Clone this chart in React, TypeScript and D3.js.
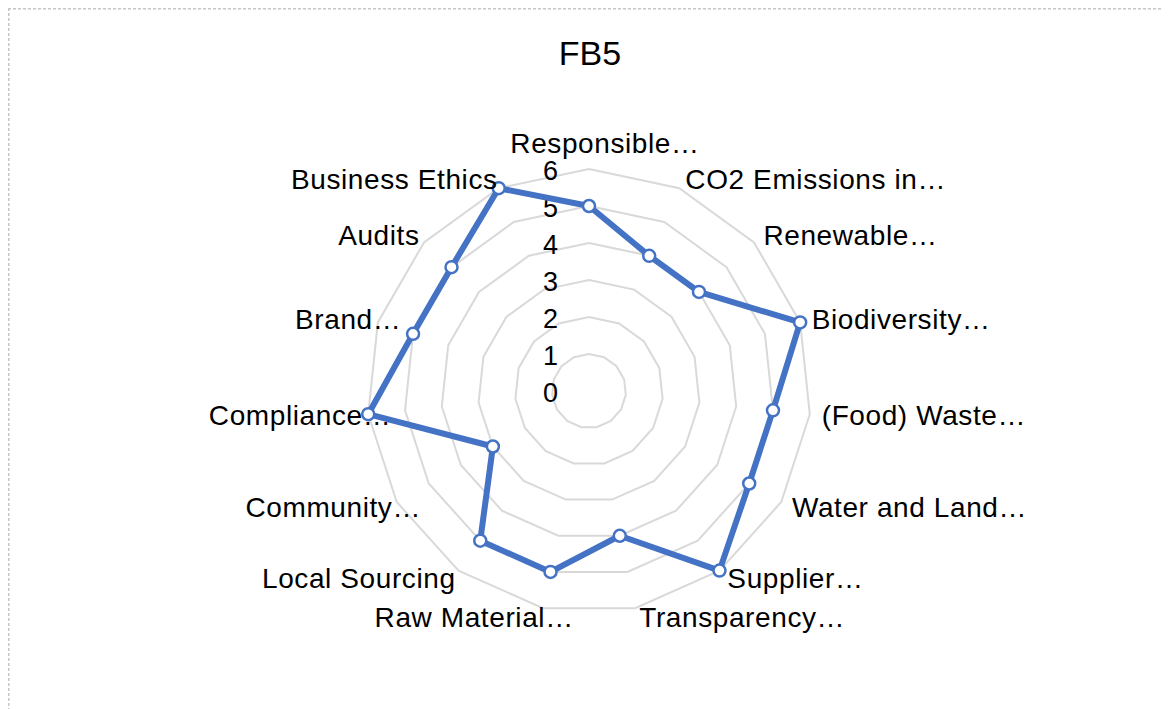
import React from "react";
import * as d3 from "d3";

const categories = [
  "Responsible…",
  "CO2 Emissions in…",
  "Renewable…",
  "Biodiversity…",
  "(Food) Waste…",
  "Water and Land…",
  "Supplier…",
  "Transparency…",
  "Raw Material…",
  "Local Sourcing",
  "Community…",
  "Compliance…",
  "Brand…",
  "Audits",
  "Business Ethics",
];
const values = [5, 4, 4, 6, 5, 5, 6, 4, 5, 5, 3, 6, 5, 5, 6];
const ticks = [0, 1, 2, 3, 4, 5, 6];
const title = "FB5";

const W = 1161;
const H = 701;
const cx = 581;
const cy = 383;
const R = 222;
const BLUE = "#4472C4";
const FONT = "'Liberation Sans', Arial, sans-serif";

export default function App() {
  const r = d3.scaleLinear().domain([0, 6]).range([0, R]);
  const n = categories.length;
  const ang = (i: number) => (i * 2 * Math.PI) / n;
  const pt = (i: number, v: number): [number, number] => [
    cx + r(v) * Math.sin(ang(i)),
    cy - r(v) * Math.cos(ang(i)),
  ];
  const ring = (v: number) =>
    d3.line().curve(d3.curveLinearClosed)(categories.map((_, i) => pt(i, v)))!;
  const series = d3.line().curve(d3.curveLinearClosed)(values.map((v, i) => pt(i, v)))!;
  const L = R + 10;

  return (
    <svg width={W} height={H} style={{ display: "block" }} fontFamily={FONT}>
      <rect x={0} y={0} width={W} height={H} fill="#fff" />
      <line x1={0} y1={0.5} x2={W} y2={0.5} stroke="#c6c6c6" strokeWidth={2} strokeDasharray="3,2" />
      <line x1={0.5} y1={0} x2={0.5} y2={H} stroke="#c6c6c6" strokeWidth={2} strokeDasharray="3,2" />
      <text x={582} y={45} textAnchor="middle" dominantBaseline="central" fontSize={34} fill="#000">
        {title}
      </text>
      {ticks.slice(1).map((t) => (
        <path key={t} d={ring(t)} fill="none" stroke="#d9d9d9" strokeWidth={2} />
      ))}
      {ticks.map((t) => (
        <text key={t} x={cx - 31} y={cy - r(t) + 2} textAnchor="end" dominantBaseline="central" fontSize={27} fill="#000">
          {t}
        </text>
      ))}
      <path d={series} fill="none" stroke={BLUE} strokeWidth={6} strokeLinejoin="round" />
      {values.map((v, i) => {
        const [x, y] = pt(i, v);
        return <circle key={i} cx={x} cy={y} r={6} fill="#fff" stroke={BLUE} strokeWidth={2.5} />;
      })}
      {categories.map((c, i) => {
        const s = Math.sin(ang(i));
        const co = Math.cos(ang(i));
        let y = cy - L * co;
        let x = cx + L * s;
        let anchor = "middle";
        if (s > 0.01) {
          anchor = "start";
          x += 2;
        } else if (s < -0.01) {
          anchor = "end";
          x += 3 + (c.endsWith("…") ? 30 : 0);
        } else {
          x += 16;
          y -= 16;
        }
        return (
          <text key={c} x={x} y={y} textAnchor={anchor} dominantBaseline="central" fontSize={28} letterSpacing={0.6} fill="#000">
            {c}
          </text>
        );
      })}
    </svg>
  );
}
